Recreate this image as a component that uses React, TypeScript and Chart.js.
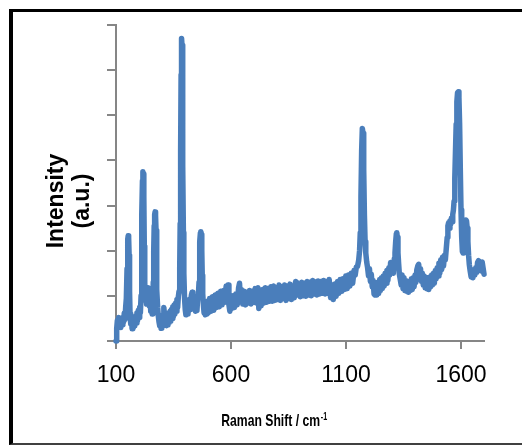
import React, { useEffect, useRef } from "react";
import { Chart, registerables } from "chart.js";

Chart.register(...registerables);

// Raman shift (cm^-1)
const ramanShift = [
  100, 103, 106, 109, 112, 115, 118, 121, 124, 127, 130, 133, 136, 139, 142, 145, 148, 151, 153, 155,
  157, 159, 161, 164, 167, 170, 173, 176, 179, 182, 185, 188, 191, 194, 197, 200, 203, 206, 209, 211,
  213, 215, 217, 219, 221, 223, 225, 227, 230, 233, 236, 239, 242, 245, 248, 251, 254, 257, 260, 262,
  264, 266, 268, 270, 272, 274, 276, 278, 281, 284, 287, 290, 293, 296, 299, 302, 305, 308, 311, 314,
  317, 320, 323, 326, 329, 332, 335, 338, 341, 344, 347, 350, 353, 356, 359, 362, 365, 368, 371, 374,
  377, 379, 381, 383, 385, 387, 389, 391, 393, 395, 398, 401, 404, 407, 410, 413, 416, 419, 422, 425,
  428, 431, 434, 437, 440, 443, 446, 449, 452, 455, 458, 461, 463, 465, 467, 469, 471, 473, 475, 477,
  480, 483, 486, 489, 492, 495, 498, 501, 507, 513, 519, 525, 531, 537, 543, 549, 555, 561, 567, 573,
  579, 583, 587, 591, 595, 599, 603, 609, 615, 621, 627, 633, 637, 641, 645, 651, 657, 663, 669, 675,
  681, 687, 693, 699, 705, 711, 717, 721, 725, 731, 737, 743, 749, 755, 761, 767, 773, 779, 785, 791,
  797, 803, 809, 815, 821, 827, 833, 839, 845, 851, 857, 863, 869, 875, 881, 885, 889, 895, 901, 907,
  913, 919, 925, 931, 937, 943, 949, 955, 961, 967, 973, 979, 985, 991, 997, 1003, 1009, 1015, 1021, 1027,
  1033, 1039, 1045, 1051, 1057, 1063, 1069, 1075, 1081, 1087, 1093, 1099, 1105, 1111, 1117, 1123, 1129, 1135, 1140, 1145,
  1150, 1155, 1159, 1162, 1165, 1168, 1171, 1174, 1177, 1180, 1183, 1186, 1190, 1194, 1198, 1202, 1206, 1210, 1214, 1218,
  1222, 1226, 1230, 1234, 1238, 1242, 1246, 1250, 1254, 1258, 1262, 1266, 1270, 1274, 1278, 1282, 1286, 1290, 1294, 1298,
  1302, 1306, 1310, 1313, 1316, 1319, 1321, 1323, 1326, 1329, 1332, 1336, 1340, 1344, 1348, 1352, 1356, 1360, 1364, 1368,
  1372, 1376, 1380, 1384, 1388, 1392, 1396, 1400, 1404, 1408, 1412, 1416, 1420, 1424, 1428, 1432, 1436, 1440, 1444, 1448,
  1452, 1456, 1460, 1464, 1468, 1472, 1476, 1480, 1484, 1488, 1492, 1496, 1500, 1504, 1508, 1512, 1516, 1520, 1524, 1528,
  1532, 1536, 1540, 1543, 1546, 1549, 1552, 1555, 1558, 1561, 1564, 1567, 1570, 1573, 1576, 1579, 1582, 1585, 1588, 1591,
  1594, 1597, 1600, 1603, 1606, 1609, 1612, 1615, 1618, 1621, 1624, 1627, 1630, 1633, 1636, 1640, 1644, 1648, 1652, 1656,
  1660, 1664, 1668, 1672, 1676, 1680, 1684, 1688, 1692, 1696, 1700,
];

// Intensity (a.u.)
const intensity = [
  0.0, 0.28, 0.46, 0.36, 0.52, 0.33, 0.47, 0.3, 0.44, 0.36, 0.52, 0.42, 0.62, 0.48, 0.75, 0.95, 1.6, 2.25, 2.33, 2.28,
  1.9, 1.1, 0.6, 0.38, 0.48, 0.27, 0.42, 0.3, 0.45, 0.34, 0.55, 0.4, 0.62, 0.45, 0.68, 0.52, 0.75, 0.62, 1.0, 1.7,
  2.8, 3.55, 3.75, 3.7, 3.2, 2.1, 1.3, 0.9, 1.1, 0.82, 1.18, 0.92, 1.12, 0.78, 0.95, 0.66, 0.78, 0.6, 0.85, 1.3,
  2.0, 2.55, 2.8, 2.86, 2.78, 2.45, 1.8, 1.15, 0.75, 0.55, 0.42, 0.34, 0.52, 0.28, 0.48, 0.32, 0.58, 0.74, 0.56, 0.42,
  0.58, 0.34, 0.56, 0.36, 0.62, 0.41, 0.66, 0.44, 0.7, 0.5, 0.76, 0.54, 0.8, 0.6, 0.84, 0.66, 0.92, 0.74, 0.98, 1.1,
  1.6, 2.6, 4.2, 5.9, 6.7, 6.55, 5.6, 3.9, 2.4, 1.5, 0.95, 0.7, 0.58, 0.84, 0.6, 0.9, 0.66, 0.92, 0.7, 0.9,
  1.02, 1.08, 0.78, 1.0, 0.72, 0.94, 0.66, 0.9, 0.68, 0.94, 1.0, 1.3, 1.8, 2.2, 2.4, 2.42, 2.36, 2.0, 1.45, 1.05,
  0.8, 0.62, 0.86, 0.58, 0.84, 0.6, 0.88, 0.62, 0.94, 0.66, 0.98, 0.68, 1.02, 0.74, 1.06, 0.76, 1.1, 0.8, 1.12, 0.86,
  1.22, 1.08, 1.24, 0.8, 0.66, 0.96, 0.72, 1.0, 0.74, 1.04, 0.8, 1.18, 1.28, 0.94, 1.14, 0.82, 1.1, 0.8, 1.08, 0.84,
  1.12, 0.82, 1.1, 0.86, 1.16, 0.84, 1.18, 0.72, 1.0, 0.78, 1.14, 0.84, 1.18, 0.86, 1.16, 0.88, 1.2, 0.88, 1.22, 0.9,
  1.18, 0.92, 1.24, 0.9, 1.2, 0.94, 1.24, 0.9, 1.22, 0.94, 1.26, 0.92, 1.2, 0.96, 1.32, 1.3, 1.02, 1.26, 0.98, 1.3,
  1.0, 1.28, 0.99, 1.32, 1.02, 1.3, 1.0, 1.34, 1.04, 1.31, 1.02, 1.33, 1.04, 1.32, 1.06, 1.34, 1.04, 1.32, 1.06, 1.36,
  0.96, 1.24, 0.92, 1.26, 0.99, 1.32, 1.06, 1.36, 1.1, 1.38, 1.14, 1.44, 1.16, 1.46, 1.22, 1.5, 1.28, 1.56, 1.46, 1.64,
  1.65, 1.78, 2.0, 2.4, 3.2, 4.2, 4.71, 4.6, 3.8, 2.8, 2.2, 1.95, 1.75, 1.62, 1.44, 1.6, 1.32, 1.48, 1.2, 1.34,
  1.04, 1.02, 1.25, 1.02, 1.3, 1.05, 1.36, 1.12, 1.4, 1.16, 1.44, 1.22, 1.5, 1.28, 1.56, 1.34, 1.62, 1.46, 1.74, 1.56,
  1.72, 1.5, 1.82, 1.95, 2.2, 2.38, 2.4, 2.3, 1.95, 1.7, 1.48, 1.36, 1.24, 1.46, 1.16, 1.4, 1.12, 1.34, 1.1, 1.32,
  1.08, 1.3, 1.12, 1.38, 1.14, 1.4, 1.2, 1.46, 1.3, 1.58, 1.66, 1.7, 1.44, 1.6, 1.32, 1.5, 1.24, 1.44, 1.18, 1.4,
  1.16, 1.38, 1.14, 1.42, 1.2, 1.46, 1.24, 1.5, 1.28, 1.56, 1.38, 1.62, 1.44, 1.72, 1.5, 1.8, 1.58, 1.86, 1.66, 1.9,
  1.8, 2.05, 2.3, 2.55, 2.62, 2.5, 2.66, 2.58, 2.72, 2.64, 2.8, 2.9, 3.1, 3.6, 4.2, 4.8, 5.3, 5.5, 5.52, 5.4,
  4.8, 3.8, 2.9, 2.3, 1.98, 1.95, 2.15, 2.4, 2.6, 2.68, 2.66, 2.5, 2.2, 1.9, 1.7, 1.55, 1.42, 1.5, 1.4, 1.58,
  1.46, 1.62, 1.52, 1.74, 1.78, 1.6, 1.72, 1.55, 1.75, 1.62, 1.48,
];

const xTicks = [100, 600, 1100, 1600];
const yTicks = [0, 1, 2, 3, 4, 5, 6, 7];
const xTitle = "Raman Shift / cm";
const xTitleSup = "-1";
const yTitle = ["Intensity", "(a.u.)"];

const FONT = "'Liberation Sans', Arial, sans-serif";
const AXIS_GRAY = "#868686";
const LINE_BLUE = "#4a7ebb";

export default function App() {
  const canvasRef = useRef<HTMLCanvasElement | null>(null);

  useEffect(() => {
    const canvas = canvasRef.current;
    if (!canvas) return;

    const titlePlugin = {
      id: "axisTitles",
      afterDraw(chart: any) {
        const ctx: CanvasRenderingContext2D = chart.ctx;
        const area = chart.chartArea;
        // Y title (two rotated lines)
        ctx.save();
        ctx.fillStyle = "#000";
        ctx.font = `bold 23px ${FONT}`;
        ctx.textAlign = "center";
        ctx.textBaseline = "alphabetic";
        ctx.translate(area.left - 53.5, (area.top + area.bottom) / 2 + 18);
        ctx.rotate(-Math.PI / 2);
        ctx.fillText(yTitle[0], 0, 0);
        ctx.fillText(yTitle[1], 0, 26.5);
        ctx.restore();

        // X title (condensed bold with superscript)
        ctx.save();
        ctx.fillStyle = "#000";
        ctx.textAlign = "left";
        ctx.textBaseline = "alphabetic";
        ctx.font = `bold 17px ${FONT}`;
        const w1 = ctx.measureText(xTitle).width;
        ctx.font = `bold 10px ${FONT}`;
        const w2 = ctx.measureText(xTitleSup).width;
        const targetW = 106;
        const sx = targetW / (w1 + w2 + 1);
        const cx = area.left + (area.right - area.left) * 0.43;
        ctx.translate(cx - targetW / 2, area.bottom + 85);
        ctx.scale(sx, 1);
        ctx.font = `bold 17px ${FONT}`;
        ctx.fillText(xTitle, 0, 0);
        ctx.font = `bold 10px ${FONT}`;
        ctx.fillText(xTitleSup, w1 + 1, -6);
        ctx.restore();
      },
    };

    const chart = new Chart(canvas, {
      type: "line",
      data: {
        datasets: [
          {
            data: ramanShift.map((x, i) => ({ x, y: intensity[i] })),
            borderColor: LINE_BLUE,
            borderWidth: 5.5,
            pointRadius: 0,
            tension: 0,
            fill: false,
            clip: false as any,
            borderJoinStyle: "round",
            borderCapStyle: "round",
          },
        ],
      },
      options: {
        animation: false,
        responsive: false,
        maintainAspectRatio: false,
        layout: { padding: { left: 0, top: 25, right: 38, bottom: 0 } },
        plugins: {
          legend: { display: false },
          tooltip: { enabled: false },
          title: { display: false },
        },
        scales: {
          x: {
            type: "linear",
            min: 100,
            max: 1700,
            afterBuildTicks: (s: any) => {
              s.ticks = xTicks.map((v) => ({ value: v }));
            },
            afterFit: (s: any) => {
              s.height = 104;
            },
            grid: {
              drawOnChartArea: false,
              drawTicks: true,
              tickLength: 8,
              color: AXIS_GRAY,
              lineWidth: 2,
            },
            border: { display: true, color: AXIS_GRAY, width: 2 },
            ticks: {
              color: "#000",
              font: { size: 23, family: FONT },
              padding: 13,
              maxRotation: 0,
              autoSkip: false,
              callback: (v: any) => String(v),
            },
          },
          y: {
            type: "linear",
            min: 0,
            max: 7,
            afterBuildTicks: (s: any) => {
              s.ticks = yTicks.map((v) => ({ value: v }));
            },
            afterFit: (s: any) => {
              s.width = 116;
            },
            grid: {
              drawOnChartArea: false,
              drawTicks: true,
              tickLength: 9,
              color: AXIS_GRAY,
              lineWidth: 2,
            },
            border: { display: true, color: AXIS_GRAY, width: 2 },
            ticks: { display: false },
          },
        },
      },
      plugins: [titlePlugin],
    } as any);

    return () => {
      chart.destroy();
    };
  }, []);

  return (
    <div
      style={{
        position: "fixed",
        left: 0,
        top: 0,
        width: 522,
        height: 445,
        background: "#fff",
      }}
    >
      <canvas
        ref={canvasRef}
        width={522}
        height={445}
        style={{ position: "absolute", left: 0, top: 0, width: 522, height: 445 }}
      />
      <div
        style={{
          position: "absolute",
          left: 9,
          top: 9,
          width: 513,
          height: 436,
          boxSizing: "border-box",
          borderLeft: "4px solid #000",
          borderTop: "3px solid #000",
          borderBottom: "2px solid #404040",
          pointerEvents: "none",
        }}
      />
    </div>
  );
}
